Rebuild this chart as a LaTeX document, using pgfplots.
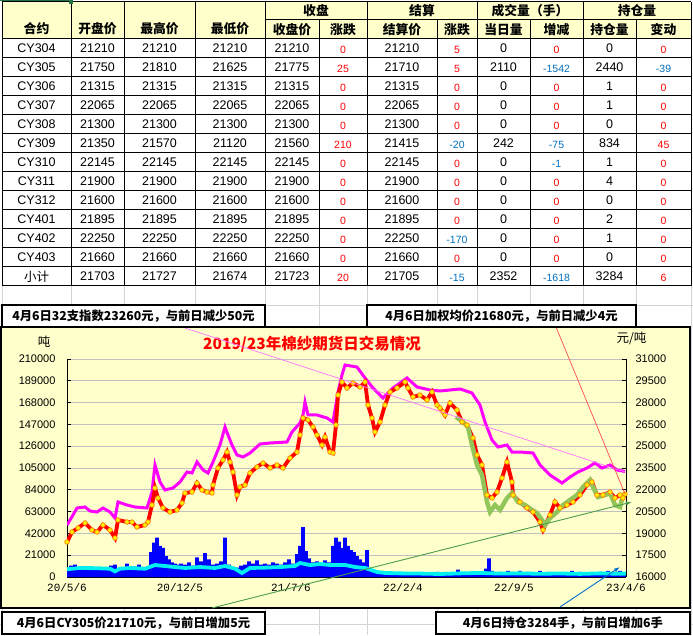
\documentclass[border=0pt]{standalone}
\usepackage{pgfplots}
\pgfplotsset{compat=1.18}
\usepackage{fontspec}
\setmainfont{Liberation Sans}
\newfontfamily\cjk{Noto Sans CJK SC}
\newfontfamily\monof{Liberation Mono}
\usetikzlibrary{arrows.meta}
\definecolor{bgy}{HTML}{FFFFCC}
\definecolor{gridg}{HTML}{C0C0C0}
\definecolor{sheetg}{HTML}{D4D4D4}
\definecolor{negb}{HTML}{0070C0}
\definecolor{mag}{HTML}{FF00FF}
\definecolor{grn}{HTML}{92C65A}
\definecolor{cyn}{HTML}{00F0F0}
\definecolor{vblue}{HTML}{0000FF}
\definecolor{xlgreen}{HTML}{217346}
\newcommand\cv[1]{\ifdim #1pt<0pt\textcolor{negb}{#1}\else\textcolor{red}{#1}\fi}
\newcommand\numf{\fontsize{12.5}{14}\selectfont}
\newcommand\smf{\fontsize{10.5}{12}\selectfont}
\newcommand\hdf{\cjk\bfseries\fontsize{12.8}{14}\selectfont}
\newcommand\boxf{\cjk\bfseries\fontsize{12.3}{14}\selectfont}
\begin{document}
\begin{tikzpicture}[x=1pt,y=1pt]
\path[use as bounding box] (0,0) rectangle (693,635);
\fill[white] (0,0) rectangle (693,635);
% spreadsheet grid below table
\foreach \gx in {2,71,124,195,265,319,367,437,477,530,583,636,691}
  \draw[sheetg, line width=0.8pt] (\gx,0) -- (\gx,349);
\draw[sheetg, line width=0.8pt] (0,330) -- (693,330);
\draw[sheetg, line width=0.8pt] (0,11) -- (693,11);
% table header fill
\fill[bgy] (2,596) rectangle (691,633);
% table lines
\begin{scope}[line width=1pt, black]
\draw (2,633) -- (691,633);
\draw (265,615) -- (691,615);
\foreach \ry in {596,577,558,539,520,501,482,463,444,425,406,387,368,349}
  \draw (2,\ry) -- (691,\ry);
\foreach \cx in {2,71,124,195,265,367,477,583,691}
  \draw (\cx,349) -- (\cx,633);
\foreach \cx in {319,437,530,636}
  \draw (\cx,349) -- (\cx,615);
\end{scope}
\draw[xlgreen, line width=2pt] (0,634.5) -- (71,634.5);
\fill[xlgreen] (69,631) rectangle (73,635);
% header texts
\node[font=\hdf] at (36.5,606) {合约};
\node[font=\hdf] at (97.5,606) {开盘价};
\node[font=\hdf] at (159.5,606) {最高价};
\node[font=\hdf] at (230,606) {最低价};
\node[font=\hdf] at (316,624) {收盘};
\node[font=\hdf] at (422,624) {结算};
\node[font=\hdf] at (530,624) {成交量（手）};
\node[font=\hdf] at (637,624) {持仓量};
\node[font=\hdf] at (292,605.5) {收盘价};
\node[font=\hdf] at (343,605.5) {涨跌};
\node[font=\hdf] at (402,605.5) {结算价};
\node[font=\hdf] at (457,605.5) {涨跌};
\node[font=\hdf] at (503.5,605.5) {当日量};
\node[font=\hdf] at (556.5,605.5) {增减};
\node[font=\hdf] at (609.5,605.5) {持仓量};
\node[font=\hdf] at (663.5,605.5) {变动};
% table rows
\foreach \zk/\za/\zb/\zc/\zd/\ze/\zf/\zg/\zh/\zi/\zj/\zl/\zm in {
0/CY304/21210/21210/21210/21210/0/21210/5/0/0/0/0,
1/CY305/21750/21810/21625/21775/25/21710/5/2110/-1542/2440/-39,
2/CY306/21315/21315/21315/21315/0/21315/0/0/0/1/0,
3/CY307/22065/22065/22065/22065/0/22065/0/0/0/1/0,
4/CY308/21300/21300/21300/21300/0/21300/0/0/0/0/0,
5/CY309/21350/21570/21120/21560/210/21415/-20/242/-75/834/45,
6/CY310/22145/22145/22145/22145/0/22145/0/0/-1/1/0,
7/CY311/21900/21900/21900/21900/0/21900/0/0/0/4/0,
8/CY312/21600/21600/21600/21600/0/21600/0/0/0/0/0,
9/CY401/21895/21895/21895/21895/0/21895/0/0/0/2/0,
10/CY402/22250/22250/22250/22250/0/22250/-170/0/0/1/0,
11/CY403/21660/21660/21660/21660/0/21660/0/0/0/0/0,
12/{\cjk 小计}/21703/21727/21674/21723/20/21705/-15/2352/-1618/3284/6}{
  \pgfmathsetmacro\yy{586.5-19*\zk}
  \node[font=\numf] at (36.5,\yy) {\za};
  \node[font=\numf] at (97.5,\yy) {\zb};
  \node[font=\numf] at (159.5,\yy) {\zc};
  \node[font=\numf] at (230,\yy) {\zd};
  \node[font=\numf] at (292,\yy) {\ze};
  \node[font=\smf] at (343,\yy-1) {\cv{\zf}};
  \node[font=\numf] at (402,\yy) {\zg};
  \node[font=\smf] at (457,\yy-1) {\cv{\zh}};
  \node[font=\numf] at (503.5,\yy) {\zi};
  \node[font=\smf] at (556.5,\yy-1) {\cv{\zj}};
  \node[font=\numf] at (609.5,\yy) {\zl};
  \node[font=\smf] at (663.5,\yy-1) {\cv{\zm}};
}
% chart area
\filldraw[fill=bgy, draw=black, line width=1.2pt] (1,27) rectangle (690,308);
\node[font=\cjk\fontsize{12.5}{14}\selectfont] at (44,293) {吨};
\node[font=\cjk\fontsize{12.5}{14}\selectfont] at (631.5,297) {元/吨};
\node[font=\cjk\bfseries\fontsize{15.5}{18}\selectfont, text=red] at (312,291) {2019/23年棉纱期货日交易情况};
\pgfplotsset{base/.style={at={(67pt,58pt)}, anchor=south west, scale only axis,
  width=559pt, height=218pt, xmin=0, xmax=559,
  /pgf/number format/assume math mode=true,
  tick label style={font=\fontsize{11}{12}\selectfont},
  scaled y ticks=false,
  yticklabel style={/pgf/number format/fixed, /pgf/number format/1000 sep={}},
  axis line style={black, line width=1pt, -},
  every outer x axis line/.append style={-},
  every outer y axis line/.append style={-},
  tick align=inside, major tick length=4pt,
  tick style={black, line width=0.8pt}}}
\begin{axis}[base, ymin=0, ymax=210000, ytick={0,21000,...,210000},
  axis x line*=bottom, axis y line*=left,
  xtick={0,113,224,336,447,559},
  xticklabels={20/5/6,20/12/5,21/7/6,22/2/4,22/9/5,23/4/6},
  xticklabel style={font=\monof\fontsize{11}{12}\selectfont, yshift=-3pt},
  yticklabel style={xshift=-8pt},
  ymajorgrids, major grid style={draw=gridg, line width=0.8pt}]
\addplot[ybar, bar width=3.6, fill=vblue, draw=none] coordinates {
(0,8000)(4,11000)(8,12000)(12,9000)(16,8000)(20,10000)(24,8000)(28,9000)(32,8000)(36,8000)
(40,7000)(44,11000)(48,12000)(52,8000)(56,9000)(60,13000)(64,8000)(68,10000)(72,12000)(76,8000)
(80,9000)(84,24000)(87,33000)(90,38000)(93,30000)(96,28000)(99,20000)(102,17000)(105,14000)(108,13000)
(111,12000)(114,13000)(118,12000)(122,14000)(126,11000)(130,19000)(134,15000)(138,23000)(142,17000)(146,12000)
(150,13000)(154,15000)(158,38000)(162,12000)(166,8000)(170,9000)(174,11000)(178,12000)(182,15000)(186,13000)
(190,16000)(194,12000)(198,13000)(202,12000)(206,14000)(210,13000)(214,12000)(218,14000)(222,17000)(226,13000)
(230,22000)(233,30000)(236,48000)(239,25000)(242,18000)(246,14000)(250,15000)(254,13000)(258,16000)(262,14000)
(266,30000)(269,38000)(272,34000)(275,28000)(278,38000)(281,30000)(284,26000)(287,24000)(290,20000)(293,17000)
(297,14000)(300,26000)(303,8000)(307,5000)(311,4000)(315,3500)(319,3500)(323,4000)(327,3000)(331,3500)
(335,4000)(339,3000)(343,3500)(347,4000)(351,3000)(355,3500)(359,3000)(363,4000)(367,3500)(371,5000)
(375,4000)(379,3500)(383,3000)(387,3500)(391,7000)(395,4000)(399,3500)(403,4000)(407,3500)(411,3000)
(415,5000)(419,8000)(422,18000)(425,6000)(429,4000)(433,5000)(437,4000)(441,6000)(445,5000)(449,4000)
(453,6000)(457,4000)(461,5000)(465,4000)(469,3500)(473,6000)(477,4000)(481,5000)(485,3500)(489,4000)
(493,3000)(497,4000)(501,3500)(505,6000)(509,4000)(513,5000)(517,3500)(521,4000)(525,3500)(529,3000)
(533,5000)(537,4000)(541,6000)(545,4000)(549,5000)(553,6000)(557,4000)};
\addplot[cyn, line width=3.8pt] coordinates {
(0,7500)(13,8700)(28,8500)(43,8000)(48,5500)(53,8000)(63,8700)(78,8000)(85,10500)(88,11500)
(98,10600)(108,9600)(118,8700)(133,9600)(148,8700)(158,10600)(168,8000)(175,3900)(183,8700)(198,9000)
(213,9600)(228,10600)(233,13500)(243,11500)(253,12500)(263,11600)(278,11600)(288,9600)(298,8700)(305,6500)
(310,4800)(318,3900)(333,3500)(353,3300)(373,2900)(393,3500)(413,3900)(433,3300)(453,3500)(473,3100)
(493,3400)(513,3000)(533,3500)(548,3200)(559,3284)};
\end{axis}
\begin{axis}[base, ymin=16000, ymax=31000, ytick={16000,17500,...,31000},
  axis x line=none, axis y line*=right, yticklabel style={xshift=6pt}]
\addplot[mag, line width=3pt] coordinates {
(0,19578)(6,20266)(10,20748)(18,20817)(23,20541)(30,20473)(36,20748)(43,20473)(48,20060)(51,21161)
(60,20954)(68,20817)(80,20748)(85,21849)(88,23707)(93,22537)(98,21986)(106,22124)(113,22537)(120,23225)
(125,23156)(130,23913)(136,23363)(141,23156)(146,23913)(153,25083)(158,26322)(161,25771)(165,25083)(170,24395)
(176,24257)(183,24532)(193,25150)(203,25221)(220,25289)(225,25977)(233,26597)(236,27147)(238,28042)(241,27147)
(250,27147)(260,26941)(266,26666)(271,28730)(275,29900)(278,30588)(290,30450)(298,29693)(306,29005)(316,28317)
(326,29005)(340,29693)(350,29074)(363,28867)(373,28799)(383,28867)(393,28936)(405,28661)(413,27835)(418,26666)
(425,25427)(431,24945)(440,25083)(445,24601)(453,24601)(466,24532)(473,23707)(483,23019)(495,22468)(503,22881)
(511,23225)(520,23500)(528,23844)(535,23500)(543,23707)(550,23363)(558,23260)};
\addplot[red, line width=3.8pt, mark=*, mark size=2.3pt, mark options={fill=yellow, draw=orange, line width=0.7pt}] coordinates {
(0,18408)(5,19096)(11,19372)(18,19716)(25,19234)(30,19096)(36,19578)(43,19234)(48,18684)(51,19922)
(60,19785)(65,19785)(70,19441)(78,19578)(81,19785)(85,20954)(88,22124)(91,21436)(96,20748)(103,20473)
(110,20610)(115,21092)(118,21780)(125,21849)(130,22468)(135,21986)(140,21849)(145,21780)(146,22331)(151,23500)
(156,24051)(160,24601)(163,23913)(166,23225)(170,21642)(173,22193)(178,22331)(183,23156)(190,23569)(196,23844)
(203,23500)(210,23707)(216,23500)(223,24188)(230,24601)(233,25771)(236,26941)(241,26803)(246,26322)(250,25771)
(255,25083)(258,25633)(263,24601)(266,24532)(269,26459)(271,28523)(275,29418)(280,29005)(286,29349)(293,29074)
(298,29418)(301,27835)(305,26941)(308,25977)(313,26666)(318,27835)(323,28730)(330,29005)(338,29418)(341,29005)
(346,28386)(353,28523)(360,28179)(365,28730)(370,27835)(373,27629)(376,27354)(378,27147)(383,27973)(390,27491)
(395,26666)(400,26459)(406,25565)(410,24395)(415,23707)(420,21642)(425,21436)(430,21849)(435,22812)(440,23913)
(445,22537)(446,21642)(453,21161)(460,20748)(466,20473)(473,19785)(476,19234)(483,20266)(488,21161)(493,20748)
(500,20954)(506,21161)(513,21642)(520,22331)(525,22537)(530,21642)(536,21642)(543,21849)(548,21436)(553,21642)
(556,21436)(558,21710)};
\addplot[grn, line width=4.5pt] coordinates {
(389,27010)(396,26666)(401,26322)(405,25083)(410,23707)(415,23019)(420,21161)(423,20473)(428,20954)(433,20610)
(440,21436)(445,21780)(451,21161)(458,20954)(465,20610)(470,20404)(475,19922)(478,19578)(483,20060)(490,20473)
(496,20954)(503,21298)(510,21642)(516,22193)(523,22675)(526,22193)(531,21505)(538,21642)(543,21780)(548,20954)
(553,20817)(556,21642)(558,21680)};
\end{axis}
% callout lines
\draw[mag!55, line width=0.7pt] (185,307) -- (625,163);
\draw[red!70, line width=0.7pt] (556,308) -- (625,141);
\draw[green!45!black!70, line width=0.9pt, -{Latex[length=6pt,width=4pt]}] (212,27) -- (632,133);
\draw[blue!45!cyan!80!black, line width=0.9pt, -{Latex[length=6pt,width=4pt]}] (560,28) -- (620,68);
% text boxes
\filldraw[fill=white, draw=black, line width=2pt] (2,308) rectangle (265,330);
\node[font=\boxf] at (133.5,319) {4月6日32支指数23260元，与前日减少50元};
\filldraw[fill=white, draw=black, line width=2pt] (367,308) rectangle (636,330);
\node[font=\boxf] at (501.5,319) {4月6日加权均价21680元，与前日减少4元};
\filldraw[fill=white, draw=black, line width=2pt] (2,1) rectangle (265,23);
\node[font=\boxf] at (133.5,11.5) {4月6日CY305价21710元，与前日增加5元};
\filldraw[fill=white, draw=black, line width=2pt] (436,1) rectangle (690,23);
\node[font=\boxf] at (563,11.5) {4月6日持仓3284手，与前日增加6手};
\end{tikzpicture}
\end{document}
